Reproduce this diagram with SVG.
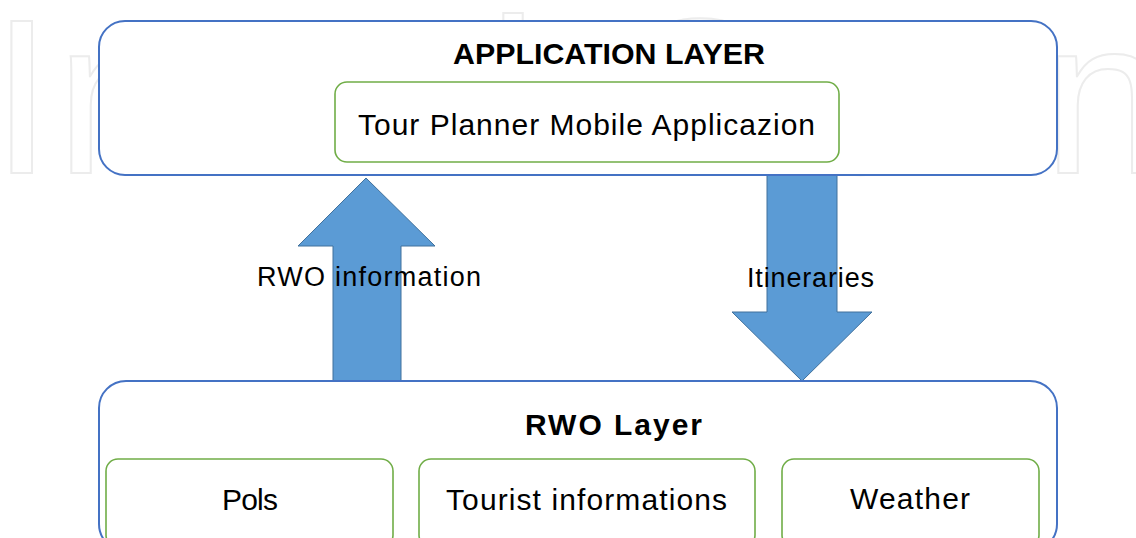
<svg xmlns="http://www.w3.org/2000/svg" width="1136" height="538" viewBox="0 0 1136 538">
  <style>
    .layer { fill: #ffffff; stroke: #4472C4; stroke-width: 2; }
    .comp { fill: #ffffff; stroke: #70AD47; stroke-width: 1.6; }
    .arrow { fill: #5B9BD5; stroke: #41719C; stroke-width: 1; }
    .title { font-family: "Liberation Sans", Arial, sans-serif; font-weight: bold; font-size: 30px; fill: #000000; }
    .label { font-family: "Liberation Sans", Arial, sans-serif; font-size: 30px; fill: #000000; }
    .flow { font-family: "Liberation Sans", Arial, sans-serif; font-size: 27px; fill: #000000; }
    .wm { font-family: "Liberation Sans", Arial, sans-serif; font-size: 221px; fill: none; stroke: #ececec; stroke-width: 2; }
  </style>
  <rect x="0" y="0" width="1136" height="538" fill="#ffffff"/>
  <text class="wm" x="-9" y="173" textLength="1175" lengthAdjust="spacing">IntechOpen</text>

  <g id="connectors">
    <polygon class="arrow" points="366,178 435,246 401,246 401,381 333,381 333,246 298,246"/>
    <polygon class="arrow" points="767,175 837,175 837,312 872,312 802,381 732,312 767,312"/>
  </g>

  <g id="application-layer">
    <rect class="layer" x="99" y="21" width="958" height="154" rx="26" ry="26"/>
    <text class="title" x="453" y="64" textLength="312" lengthAdjust="spacingAndGlyphs">APPLICATION LAYER</text>
  </g>
  <g id="tour-planner">
    <rect class="comp" x="335" y="82" width="504" height="80" rx="12" ry="12"/>
    <text class="label" x="358" y="135" textLength="457" lengthAdjust="spacing">Tour Planner Mobile Applicazion</text>
  </g>

  <g id="rwo-layer">
    <rect class="layer" x="99" y="381" width="958" height="170" rx="27" ry="27"/>
    <text class="title" x="525" y="435" textLength="177" lengthAdjust="spacing">RWO Layer</text>
  </g>
  <g id="pols">
    <rect class="comp" x="106" y="459" width="287" height="88" rx="12" ry="12"/>
    <text class="label" x="222" y="510" textLength="56" lengthAdjust="spacing">Pols</text>
  </g>
  <g id="tourist-informations">
    <rect class="comp" x="419" y="459" width="336" height="88" rx="12" ry="12"/>
    <text class="label" x="446" y="510" textLength="281" lengthAdjust="spacing">Tourist informations</text>
  </g>
  <g id="weather">
    <rect class="comp" x="782" y="459" width="257" height="88" rx="12" ry="12"/>
    <text class="label" x="850" y="509" textLength="120" lengthAdjust="spacing">Weather</text>
  </g>

  <g id="connector-labels">
    <text class="flow" x="257" y="286" textLength="224" lengthAdjust="spacing">RWO information</text>
    <text class="flow" x="747" y="287" textLength="127" lengthAdjust="spacing">Itineraries</text>
  </g>
</svg>
